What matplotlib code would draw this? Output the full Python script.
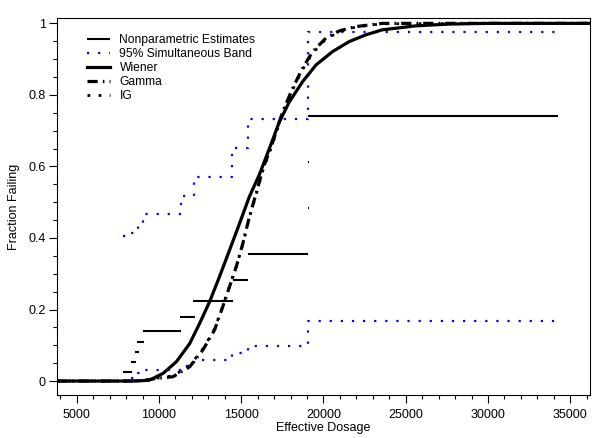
import matplotlib
matplotlib.use("Agg")
import matplotlib.pyplot as plt
import numpy as np

plt.rcParams['font.family'] = ['Liberation Sans', 'DejaVu Sans']

# Nonparametric estimate segments
np_left = [7790, 8270, 8520, 8680, 9000, 11260, 12070, 14490, 15400, 19040, 19040, 19080]
np_right = [8390, 8590, 8760, 9100, 11360, 12170, 14490, 15440, 19080, 19120, 19120, 34230]
np_value = [0.026, 0.053, 0.081, 0.110, 0.141, 0.180, 0.224, 0.283, 0.356, 0.485, 0.613, 0.742]

# 95% simultaneous band (step breakpoints)
band_x = [7820, 8300, 8560, 8700, 9050, 11310, 12130, 14450, 15420, 19080, 34230]
band_upper = [0.406, 0.413, 0.425, 0.440, 0.467, 0.517, 0.570, 0.651, 0.733, 0.976]
band_lower = [0.000, 0.0075, 0.017, 0.022, 0.030, 0.043, 0.060, 0.077, 0.099, 0.168]

# Wiener model curve
wiener_x = [3800, 8000, 8500, 9000, 9442, 10250, 11060, 11870, 12470, 13080, 13680, 14290,
            14900, 15500, 16110, 16720, 17320, 17930, 18730, 19550, 20550, 21560, 22580,
            23580, 25600, 27620, 30000, 36200]
wiener_y = [0.0, 0.0, 0.0003, 0.001, 0.003, 0.0215, 0.054, 0.105, 0.161, 0.222, 0.292, 0.366,
            0.441, 0.516, 0.578, 0.651, 0.725, 0.781, 0.837, 0.884, 0.921, 0.949, 0.968,
            0.982, 0.993, 0.998, 1.0, 1.0]

# Gamma model curve
gamma_x = [3800, 8500, 9200, 9850, 10850, 11870, 12670, 13380, 13880, 14290, 14700, 15100,
           15500, 15910, 16310, 16920, 17520, 18130, 18730, 19340, 20150, 20960, 21970,
           23580, 36200]
gamma_y = [0.0, 0.0, 0.002, 0.0075, 0.012, 0.040, 0.087, 0.143, 0.208, 0.264, 0.320, 0.385,
           0.460, 0.525, 0.592, 0.669, 0.753, 0.819, 0.875, 0.921, 0.959, 0.979, 0.991,
           1.0, 1.0]

# IG model curve
ig_x = [3800, 8500, 9200, 9850, 10850, 11870, 12670, 13380, 13880, 14290, 14700, 15100,
        15500, 15910, 16310, 16920, 17520, 18130, 18730, 19340, 20150, 20960, 21970,
        23580, 36200]
ig_y = [0.0, 0.0, 0.002, 0.008, 0.014, 0.043, 0.090, 0.146, 0.210, 0.265, 0.320, 0.384,
        0.458, 0.522, 0.588, 0.665, 0.749, 0.815, 0.871, 0.917, 0.956, 0.977, 0.990,
        0.999, 1.0]

fig = plt.figure(figsize=(6.03, 4.38), dpi=100)
ax = fig.add_axes([0.0945, 0.0982, 0.8839, 0.8607])

# Nonparametric estimates
ax.hlines(np_value, np_left, np_right, colors='black', linewidth=1.5,
          capstyle='butt', label='Nonparametric Estimates', zorder=3)

# Band
bx = band_x
bu = band_upper + [band_upper[-1]]
bl = band_lower + [band_lower[-1]]
ax.step(bx, bu, where='post', color='blue', linestyle=(0, (1, 4)), linewidth=1.6,
        label='95% Simultaneous Band', zorder=2)
ax.step(bx, bl, where='post', color='blue', linestyle=(0, (1, 4)), linewidth=1.6, zorder=2)

ax.plot(wiener_x, wiener_y, color='black', linewidth=2.3, label='Wiener', zorder=4)
ax.plot(gamma_x, gamma_y, color='black', linewidth=2.3,
        linestyle=(0, (3.2, 1.6, 0.5, 1.6)), label='Gamma', zorder=4)
ax.plot(ig_x, ig_y, color='black', linewidth=2.0,
        linestyle=(0, (1, 3)), label='IG', zorder=4)

ax.set_xlim(3800, 36200)
ax.set_ylim(-0.039, 1.015)
ax.set_xticks([5000, 10000, 15000, 20000, 25000, 30000, 35000])
ax.set_xticks(np.arange(4000, 36001, 1000), minor=True)
ax.set_yticks([0, 0.2, 0.4, 0.6, 0.8, 1.0])
ax.set_yticklabels(['0', '0.2', '0.4', '0.6', '0.8', '1'])
ax.set_yticks(np.arange(0, 1.001, 0.05), minor=True)
ax.tick_params(which='major', direction='out', length=6, width=0.8, labelsize=9, pad=2)
ax.tick_params(axis='x', which='major', pad=4)
ax.tick_params(which='minor', direction='out', length=3, width=0.8)
for s in ax.spines.values():
    s.set_linewidth(0.8)

ax.set_xlabel('Effective Dosage', fontsize=9, labelpad=1)
ax.set_ylabel('Fraction Failing', fontsize=9, labelpad=6)

leg = ax.legend(loc='upper left', bbox_to_anchor=(0.047, 0.97), frameon=False,
                fontsize=8.7, handlelength=1.9, handletextpad=0.8, labelspacing=0.17,
                borderaxespad=0.0)

fig.savefig('out.png', dpi=100)
